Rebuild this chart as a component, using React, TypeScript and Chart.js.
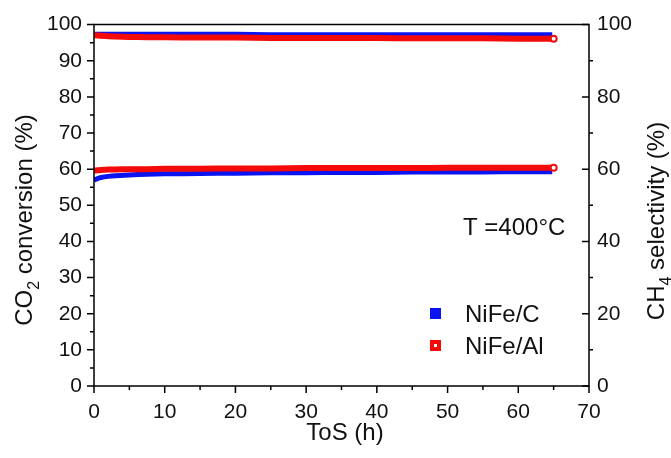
import React, { useEffect, useRef } from "react";
import { Chart, registerables } from "chart.js";

Chart.register(...registerables);

// Time on stream (h)
const tosC = [0, 0.5, 1, 2, 3, 5, 7.5, 10, 15, 20, 25, 30, 35, 40, 45, 50, 55, 60, 64.8];
const convC = [57.0, 57.4, 57.7, 58.0, 58.2, 58.4, 58.6, 58.7, 58.8, 58.9, 59.0, 59.0, 59.1, 59.1, 59.2, 59.2, 59.2, 59.3, 59.3];
const selC = [97.3, 97.3, 97.3, 97.3, 97.3, 97.3, 97.3, 97.3, 97.3, 97.3, 97.2, 97.2, 97.2, 97.2, 97.2, 97.2, 97.2, 97.2, 97.2];

const tosAl = [0, 0.5, 1, 2, 3, 5, 7.5, 10, 15, 20, 25, 30, 35, 40, 45, 50, 55, 60, 65];
const convAl = [59.6, 59.7, 59.8, 59.9, 59.9, 60.0, 60.0, 60.1, 60.1, 60.2, 60.2, 60.3, 60.3, 60.3, 60.3, 60.4, 60.4, 60.4, 60.4];
const selAl = [97.1, 97.0, 96.9, 96.8, 96.7, 96.6, 96.5, 96.5, 96.4, 96.4, 96.3, 96.3, 96.3, 96.3, 96.2, 96.2, 96.2, 96.1, 96.1];

const xTicksMajor = [0, 10, 20, 30, 40, 50, 60, 70];
const seriesNames = ["NiFe/C", "NiFe/Al"];
const tempLabel = "T =400°C";

const BLUE = "#0a14f0";
const RED = "#f50a0a";
const FONT = "'Liberation Sans', Arial, sans-serif";

const pts = (xs: number[], ys: number[]) => xs.map((x, i) => ({ x, y: ys[i] }));

export default function App() {
  const ref = useRef<HTMLCanvasElement | null>(null);
  useEffect(() => {
    if (!ref.current) return;
    const lastMarker = (n: number) => (ctx: any) => (ctx.dataIndex === n - 1 ? 3 : 0);
    const decor = {
      id: "decor",
      afterDraw(chart: any) {
        const c = chart.ctx;
        const a = chart.chartArea;
        const x = chart.scales.x, y = chart.scales.y, y2 = chart.scales.y2;
        c.save();
        c.strokeStyle = "#000";
        c.lineWidth = 1.5;
        c.beginPath();
        c.rect(a.left, a.top, a.right - a.left, a.bottom - a.top);
        c.stroke();
        c.beginPath();
        // x ticks (out, down)
        for (let v = 0; v <= 70; v += 5) {
          const px = x.getPixelForValue(v);
          const len = v % 10 === 0 ? 7 : 4;
          c.moveTo(px, a.bottom);
          c.lineTo(px, a.bottom + len);
        }
        // left y ticks (out)
        for (let v = 0; v <= 100; v += 5) {
          const py = y.getPixelForValue(v);
          const len = v % 10 === 0 ? 7 : 4;
          c.moveTo(a.left, py);
          c.lineTo(a.left - len, py);
        }
        // right y ticks
        for (let v = 0; v <= 100; v += 10) {
          const py = y2.getPixelForValue(v);
          if (v % 20 === 0) {
            c.moveTo(a.right, py);
            c.lineTo(a.right - 7, py);
          } else {
            c.moveTo(a.right, py);
            c.lineTo(a.right + 4, py);
          }
        }
        c.stroke();

        c.fillStyle = "#111";
        // x title
        c.font = `24px ${FONT}`;
        c.textAlign = "center";
        c.textBaseline = "alphabetic";
        c.fillText("ToS (h)", 345, 440);

        // rotated titles with subscripts
        const drawRot = (cx: number, cy: number, pre: string, sub: string, post: string) => {
          c.save();
          c.translate(cx, cy);
          c.rotate(-Math.PI / 2);
          c.textAlign = "left";
          c.font = `24px ${FONT}`;
          const w1 = c.measureText(pre).width;
          const w3 = c.measureText(post).width;
          c.font = `16px ${FONT}`;
          const w2 = c.measureText(sub).width;
          const total = w1 + w2 + w3;
          let sx = -total / 2;
          c.font = `24px ${FONT}`;
          c.fillText(pre, sx, 0);
          sx += w1;
          c.font = `16px ${FONT}`;
          c.fillText(sub, sx, 7);
          sx += w2;
          c.font = `24px ${FONT}`;
          c.fillText(post, sx, 0);
          c.restore();
        };
        drawRot(32, 220, "CO", "2", " conversion (%)");
        drawRot(664, 221, "CH", "4", " selectivity (%)");

        // temperature annotation
        c.font = `24px ${FONT}`;
        c.textAlign = "left";
        c.fillText(tempLabel, 463, 235);

        // legend
        c.fillStyle = BLUE;
        c.fillRect(430, 308, 11, 11);
        c.fillStyle = RED;
        c.fillRect(430, 340, 11, 11);
        c.fillStyle = "#fff";
        c.fillRect(434, 344, 3, 3);
        c.fillStyle = "#111";
        c.textBaseline = "middle";
        c.fillText(seriesNames[0], 465, 315);
        c.fillText(seriesNames[1], 465, 347);
        c.restore();
      },
    };
    const chart = new Chart(ref.current, {
      type: "line",
      data: {
        datasets: [
          {
            label: seriesNames[1] + " conv",
            data: pts(tosAl, convAl),
            yAxisID: "y",
            borderColor: RED,
            borderWidth: 6,
            pointRadius: lastMarker(tosAl.length),
            pointBackgroundColor: "#fff",
            pointBorderColor: RED,
            pointBorderWidth: 2,
            order: 0,
          },
          {
            label: seriesNames[1] + " sel",
            data: pts(tosAl, selAl),
            yAxisID: "y2",
            borderColor: RED,
            borderWidth: 6,
            pointRadius: lastMarker(tosAl.length),
            pointBackgroundColor: "#fff",
            pointBorderColor: RED,
            pointBorderWidth: 2,
            order: 0,
          },
          {
            label: seriesNames[0] + " conv",
            data: pts(tosC, convC),
            yAxisID: "y",
            borderColor: BLUE,
            borderWidth: 5,
            pointRadius: 0,
            order: 1,
          },
          {
            label: seriesNames[0] + " sel",
            data: pts(tosC, selC),
            yAxisID: "y2",
            borderColor: BLUE,
            borderWidth: 5,
            pointRadius: 0,
            order: 1,
          },
        ],
      },
      options: {
        responsive: false,
        animation: false,
        layout: { padding: { top: 23, left: 0, right: 0, bottom: 0 } },
        plugins: { legend: { display: false }, tooltip: { enabled: false } },
        elements: { line: { tension: 0.2, borderCapStyle: "butt" } },
        scales: {
          x: {
            type: "linear",
            min: 0,
            max: 70,
            afterBuildTicks: (s: any) => {
              s.ticks = xTicksMajor.map((v) => ({ value: v }));
            },
            afterFit: (s: any) => {
              s.height = 72;
            },
            grid: { display: false, drawTicks: false },
            border: { display: false },
            ticks: { padding: 14, color: "#111", font: { family: FONT, size: 21 }, maxRotation: 0, autoSkip: false },
          },
          y: {
            position: "left",
            min: 0,
            max: 100,
            afterFit: (s: any) => {
              s.width = 94;
            },
            grid: { display: false, drawTicks: false },
            border: { display: false },
            ticks: {
              stepSize: 10,
              padding: 12,
              color: "#111",
              autoSkip: false,
              font: { family: FONT, size: 21 },
            },
          },
          y2: {
            position: "right",
            min: 0,
            max: 100,
            afterFit: (s: any) => {
              s.width = 82;
            },
            grid: { display: false, drawTicks: false },
            border: { display: false },
            ticks: {
              stepSize: 20,
              padding: 8,
              color: "#111",
              autoSkip: false,
              font: { family: FONT, size: 21 },
            },
          },
        },
      },
      plugins: [decor],
    } as any);
    return () => chart.destroy();
  }, []);
  return (
    <div style={{ position: "fixed", left: 0, top: 0, width: 671, height: 458, background: "#fff" }}>
      <canvas ref={ref} width={671} height={458} style={{ display: "block" }} />
    </div>
  );
}
